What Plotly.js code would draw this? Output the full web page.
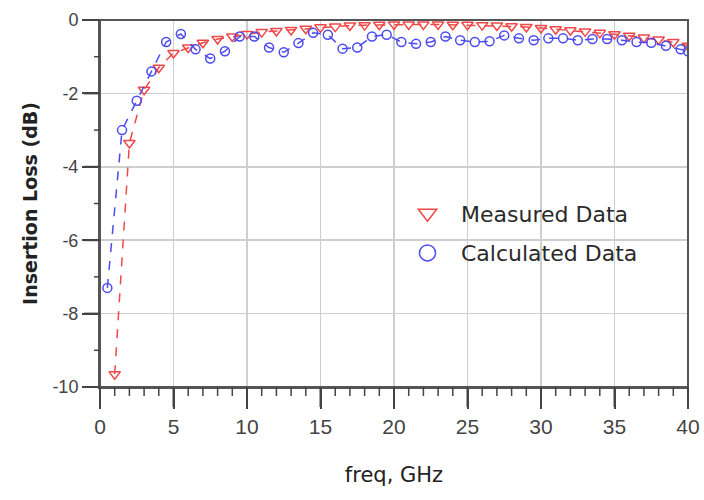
<!DOCTYPE html>
<html>
<head>
<meta charset="utf-8">
<script src="https://cdn.plot.ly/plotly-3.0.1.min.js"></script>
<style>html,body{margin:0;padding:0;background:#fff;}#chart{width:704px;height:500px;}</style>
</head>
<body>
<div id="chart"></div>
<script>
// Measured data (red, inverted triangles)
const measFreq = [1,2,3,4,5,6,7,8,9,10,11,12,13,14,15,16,17,18,19,20,21,22,23,24,25,26,27,28,29,30,31,32,33,34,35,36,37,38,39,40];
const measLoss = [-9.65,-3.35,-1.9,-1.3,-0.9,-0.75,-0.62,-0.52,-0.45,-0.38,-0.33,-0.30,-0.27,-0.24,-0.20,-0.18,-0.15,-0.14,-0.13,-0.12,-0.12,-0.12,-0.12,-0.13,-0.13,-0.14,-0.15,-0.17,-0.19,-0.22,-0.25,-0.28,-0.31,-0.35,-0.39,-0.43,-0.48,-0.53,-0.60,-0.70];
// Calculated data (blue, circles)
const calcFreq = [0.5,1.5,2.5,3.5,4.5,5.5,6.5,7.5,8.5,9.5,10.5,11.5,12.5,13.5,14.5,15.5,16.5,17.5,18.5,19.5,20.5,21.5,22.5,23.5,24.5,25.5,26.5,27.5,28.5,29.5,30.5,31.5,32.5,33.5,34.5,35.5,36.5,37.5,38.5,39.5,40];
const calcLoss = [-7.3,-3.0,-2.2,-1.4,-0.6,-0.38,-0.8,-1.05,-0.85,-0.45,-0.45,-0.75,-0.88,-0.63,-0.35,-0.4,-0.78,-0.75,-0.45,-0.4,-0.6,-0.65,-0.6,-0.45,-0.55,-0.6,-0.58,-0.42,-0.5,-0.55,-0.5,-0.5,-0.55,-0.52,-0.52,-0.55,-0.6,-0.62,-0.7,-0.8,-0.85];
const seriesNames = ["Measured Data","Calculated Data"];
const yTickVals = [0,-2,-4,-6,-8,-10];
const yTickText = ["0","-2","-4","-6","-8","-10"];
const xTickVals = [0,5,10,15,20,25,30,35,40];
const xRange = [0, 40], yRange = [-10, 0];
const xMinorStep = 1, yMinorStep = 1;

const red = "#f04848", blue = "#4b4bf0", axisCol = "#444";
const traces = [
  {x: measFreq, y: measLoss, mode: "lines+markers", showlegend: false,
   line: {color: red, width: 1.5, dash: "dash"},
   marker: {symbol: "triangle-down-open", size: 10, color: red, line: {width: 1.5}}},
  {x: calcFreq, y: calcLoss, mode: "lines+markers", showlegend: false,
   line: {color: blue, width: 1.5, dash: "dash"},
   marker: {symbol: "circle-open", size: 9, color: blue, line: {width: 1.5}}},
  {x: [null], y: [null], mode: "markers", name: seriesNames[0], legendgroup: "a",
   marker: {symbol: "triangle-down-open", size: 18, color: red, line: {width: 1.5}}},
  {x: [null], y: [null], mode: "markers", name: seriesNames[1], legendgroup: "b",
   marker: {symbol: "circle-open", size: 18, color: blue, line: {width: 1.5}}}
];

// axis decorations: frame and tick marks, positioned from the axis ranges
const shapes = [{type: "rect", xref: "paper", yref: "paper", x0: 0, x1: 1, y0: 0, y1: 1,
                 line: {color: "#555", width: 2}, layer: "above"}];
const xFrac = v => (v - xRange[0]) / (xRange[1] - xRange[0]);
const yFrac = v => (v - yRange[0]) / (yRange[1] - yRange[0]);
for (let v = xRange[0]; v <= xRange[1]; v += xMinorStep) {
  const major = xTickVals.includes(v);
  shapes.push({type: "line", xref: "paper", yref: "paper", x0: xFrac(v), x1: xFrac(v),
               ysizemode: "pixel", yanchor: 0, y0: 0, y1: major ? -20 : -9,
               line: {color: axisCol, width: major ? 2 : 1.5}});
}
for (let v = yRange[0]; v <= yRange[1]; v += yMinorStep) {
  const major = yTickVals.includes(v);
  shapes.push({type: "line", xref: "paper", yref: "paper", y0: yFrac(v), y1: yFrac(v),
               xsizemode: "pixel", xanchor: 0, x0: 0, x1: major ? -16 : -6,
               line: {color: axisCol, width: major ? 2 : 1.5}});
}

const wide = "DejaVu Sans, sans-serif";
const font = "Liberation Sans, Arial, sans-serif";
const layout = {
  width: 704, height: 500,
  margin: {l: 100, r: 16, t: 20, b: 113},
  font: {family: font, color: "#333"},
  showlegend: true,
  shapes: shapes,
  legend: {x: 0.5, y: 0.53, xanchor: "left", yanchor: "top", bgcolor: "rgba(0,0,0,0)",
           font: {size: 22, color: "#2a2a2a", family: wide}, tracegroupgap: 8, itemwidth: 57},
  xaxis: {range: xRange, tickvals: xTickVals,
          ticks: "outside", ticklen: 20, tickwidth: 2, tickcolor: axisCol,
          showline: true, linecolor: "#555", linewidth: 2,
          gridcolor: "#cfcfcf", gridwidth: 1.5, zeroline: false,
          tickfont: {size: 21, color: "#444"},
          title: {text: "freq, GHz", font: {size: 21, color: "#222", family: wide}, standoff: 30}},
  yaxis: {range: yRange, tickvals: yTickVals, ticktext: yTickText,
          ticks: "outside", ticklen: 16, tickwidth: 2, tickcolor: axisCol,
          showline: true, linecolor: "#555", linewidth: 2,
          gridcolor: "#cfcfcf", gridwidth: 1.5, zeroline: false,
          tickfont: {size: 18, color: "#444"},
          title: {text: "<b>Insertion Loss (dB)</b>", font: {size: 19, color: "#222", family: wide}, standoff: 10}}
};
Plotly.newPlot("chart", traces, layout, {staticPlot: true});
</script>
</body>
</html>
